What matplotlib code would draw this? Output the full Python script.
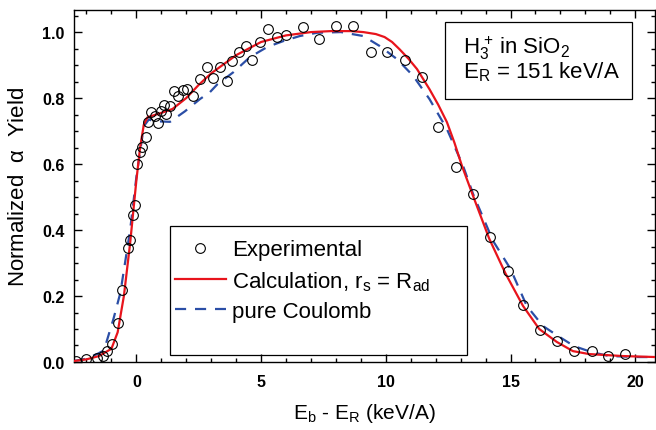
import numpy as np
import matplotlib
matplotlib.use("Agg")
from matplotlib import pyplot as plt
from matplotlib.patches import Rectangle
from matplotlib.ticker import MultipleLocator

plt.rcParams['font.family'] = ['Liberation Sans', 'DejaVu Sans']
plt.rcParams['mathtext.fontset'] = 'custom'
plt.rcParams['mathtext.rm'] = 'Liberation Sans'
plt.rcParams['mathtext.it'] = 'Liberation Sans'

# experimental points (E_b - E_R, normalized yield)
exp_x = [-2.40, -2.00, -1.56, -1.32, -1.16, -0.96, -0.72, -0.56, -0.32, -0.24,
         -0.12, -0.04, 0.04, 0.16, 0.24, 0.40, 0.48, 0.60, 0.76, 0.88,
         1.00, 1.12, 1.20, 1.36, 1.52, 1.68, 1.88, 2.04, 2.28, 2.56,
         2.84, 3.08, 3.36, 3.64, 3.84, 4.12, 4.40, 4.64, 4.96, 5.28,
         5.64, 6.00, 6.68, 7.32, 8.00, 8.68, 9.40, 10.04, 10.76, 11.44,
         12.08, 12.80, 13.48, 14.16, 14.88, 15.48, 16.20, 16.88, 17.56, 18.28,
         18.92, 19.60]
exp_y = [0.003, 0.009, 0.012, 0.018, 0.033, 0.055, 0.118, 0.218, 0.345, 0.370,
         0.445, 0.476, 0.600, 0.636, 0.652, 0.682, 0.727, 0.758, 0.745, 0.724,
         0.761, 0.779, 0.752, 0.776, 0.821, 0.806, 0.824, 0.827, 0.806, 0.858,
         0.894, 0.861, 0.894, 0.852, 0.912, 0.939, 0.958, 0.915, 0.970, 1.009,
         0.985, 0.991, 1.015, 0.979, 1.018, 1.018, 0.939, 0.939, 0.915, 0.864,
         0.712, 0.591, 0.509, 0.379, 0.276, 0.173, 0.097, 0.064, 0.033, 0.033,
         0.018, 0.024]

# calculation, r_s = R_ad
calc_x = [-2.5, -2.0, -1.5, -1.0, -0.75, -0.5, -0.25, 0.0, 0.15, 0.3,
          0.45, 1.0, 1.45, 2.0, 2.5, 3.0, 4.0, 5.0, 6.0, 7.0,
          7.8, 8.6, 9.1, 9.6, 9.95, 10.25, 10.55, 10.9, 11.25, 11.75,
          12.1, 12.45, 12.75, 13.05, 13.5, 14.15, 14.8, 15.5, 16.15, 16.85,
          17.5, 18.15, 19.5, 20.8]
calc_y = [0.003, 0.008, 0.018, 0.040, 0.090, 0.200, 0.360, 0.550, 0.650, 0.720,
          0.742, 0.755, 0.767, 0.800, 0.840, 0.875, 0.930, 0.970, 0.990, 1.000,
          1.003, 1.003, 1.000, 0.994, 0.985, 0.970, 0.948, 0.920, 0.888, 0.827,
          0.780, 0.727, 0.665, 0.595, 0.503, 0.373, 0.268, 0.170, 0.100, 0.061,
          0.033, 0.024, 0.018, 0.015]

# pure Coulomb
coul_x = [-2.5, -2.0, -1.55, -1.3, -0.92, -0.64, -0.25, 0.0, 0.3, 0.5,
          0.7, 1.35, 1.95, 2.55, 2.95, 3.25, 3.9, 4.55, 5.25, 5.9,
          6.55, 7.25, 8.2, 9.1, 9.75, 10.45, 11.1, 11.75, 12.45, 13.1,
          13.5, 14.3, 15.0, 15.65, 16.3, 16.9, 17.55, 18.25, 18.95, 20.15, 20.8]
coul_y = [0.003, 0.010, 0.025, 0.035, 0.130, 0.210, 0.400, 0.560, 0.715, 0.735,
          0.730, 0.728, 0.760, 0.797, 0.818, 0.842, 0.879, 0.924, 0.955, 0.973,
          0.988, 0.998, 1.000, 0.988, 0.958, 0.918, 0.867, 0.797, 0.706, 0.594,
          0.509, 0.367, 0.282, 0.170, 0.109, 0.079, 0.048, 0.030, 0.018, 0.015, 0.015]

fig = plt.figure(figsize=(6.56, 4.31), dpi=100)
ax = fig.add_axes([0.1128, 0.1578, 0.886, 0.8167])

ax.plot(exp_x, exp_y, 'o', mfc='none', mec='black', ms=7, mew=0.8,
        label='Experimental', zorder=4)
ax.plot(calc_x, calc_y, '-', color='#e8141c', lw=1.6,
        label=r'Calculation, r$_\mathregular{s}$ = R$_\mathregular{ad}$', zorder=3)
ax.plot(coul_x, coul_y, '--', color='#2b4ea6', lw=1.6, dashes=(5, 4),
        label='pure Coulomb', zorder=2)

ax.set_xlim(-2.5, 20.8)
ax.set_ylim(0, 1.067)
ax.xaxis.set_major_locator(MultipleLocator(5))
ax.xaxis.set_minor_locator(MultipleLocator(1))
ax.yaxis.set_minor_locator(MultipleLocator(0.05))
ax.set_yticks([0, 0.2, 0.4, 0.6, 0.8, 1.0])
ax.set_yticklabels(['0.0', '0.2', '0.4', '0.6', '0.8', '1.0'])
ax.tick_params(which='both', direction='in', top=True, right=True, width=1)
ax.tick_params(which='major', length=6, labelsize=11.5)
ax.tick_params(axis='x', which='major', pad=9)
ax.tick_params(axis='y', which='major', pad=7)
ax.tick_params(which='minor', length=3)
for lab in ax.get_xticklabels() + ax.get_yticklabels():
    lab.set_fontweight('bold')
for s in ax.spines.values():
    s.set_linewidth(1)

ax.set_xlabel(r'E$_\mathregular{b}$ - E$_\mathregular{R}$ (keV/A)', fontsize=15, labelpad=8)
ax.set_ylabel(r'Normalized  $\alpha$  Yield', fontsize=16, labelpad=9)

# legend box
ax.add_patch(Rectangle((0.165, 0.02), 0.512, 0.366, transform=ax.transAxes,
                       fill=False, edgecolor='black', lw=0.9, zorder=5))
ax.legend(loc='upper left', bbox_to_anchor=(0.173, 0.348), frameon=False,
          fontsize=16, handlelength=2.3, handletextpad=0.3, labelspacing=0.38,
          borderaxespad=0.0, borderpad=0.0)

# annotation box
ax.add_patch(Rectangle((0.639, 0.746), 0.321, 0.219, transform=ax.transAxes,
                       fill=False, edgecolor='black', lw=0.9, zorder=5))
ax.text(0.67, 0.895, r'H$_\mathregular{3}^{\ \mathregular{+}}$ in SiO$_\mathregular{2}$',
        transform=ax.transAxes, fontsize=16, va='center')
ax.text(0.67, 0.825, r'E$_\mathregular{R}$ = 151 keV/A',
        transform=ax.transAxes, fontsize=16, va='center')

fig.savefig('out.png', dpi=100)
